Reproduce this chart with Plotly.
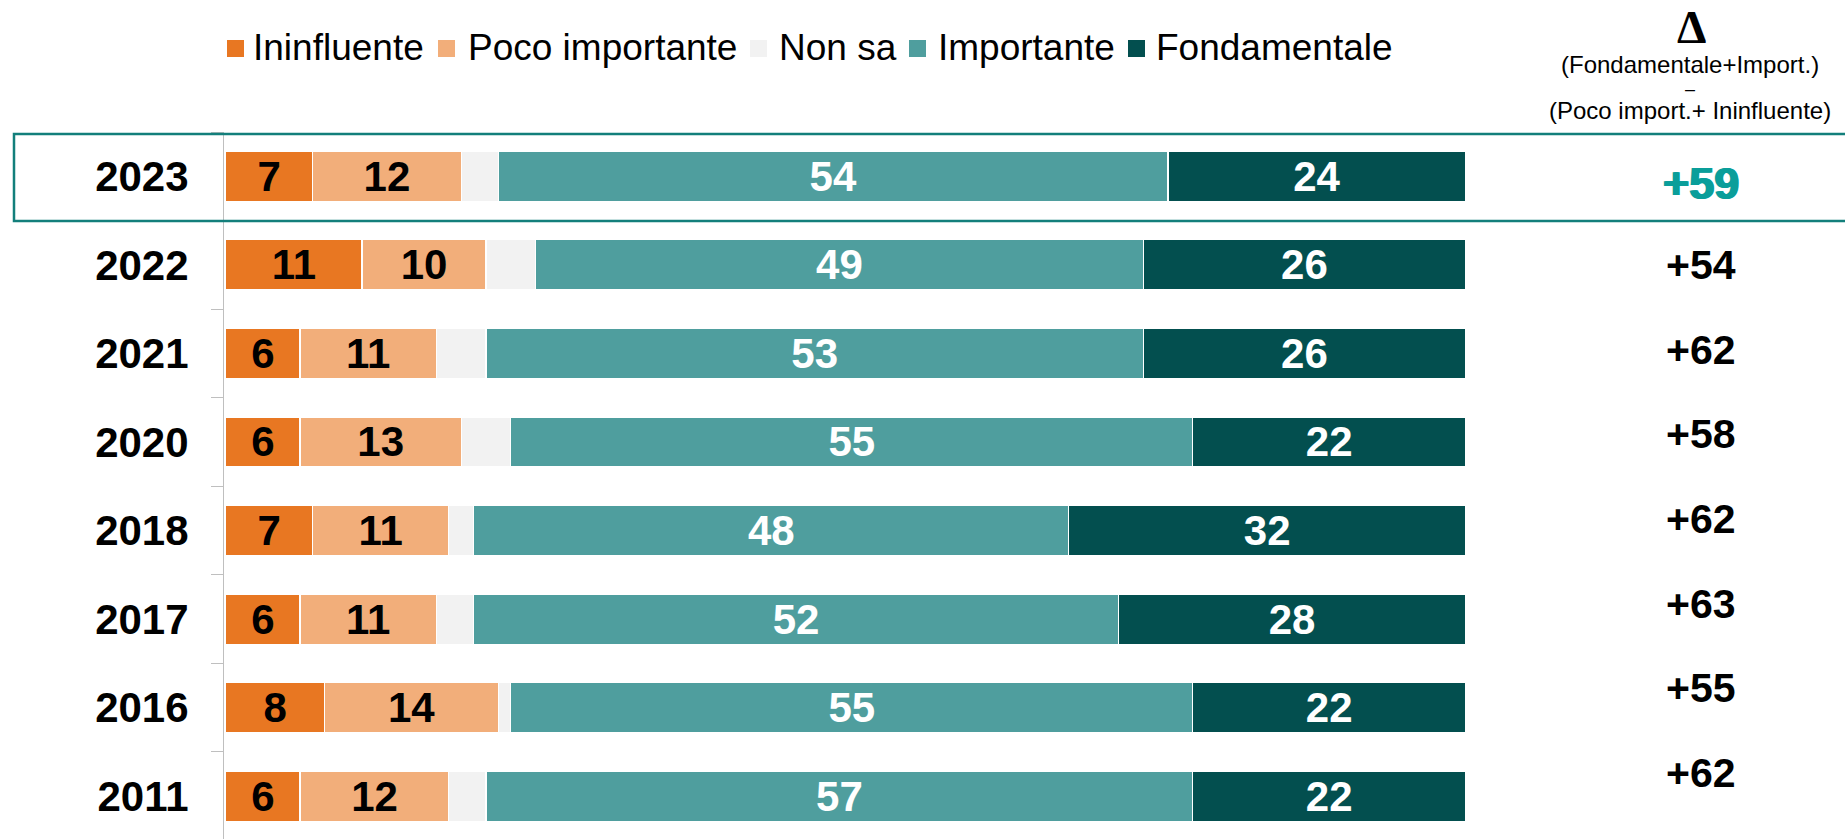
import plotly.graph_objects as go

# Survey waves, top to bottom
years = ["2023", "2022", "2021", "2020", "2018", "2017", "2016", "2011"]

# Share of answers (%) per wave
ininfluente = [7, 11, 6, 6, 7, 6, 8, 6]
poco_importante = [12, 10, 11, 13, 11, 11, 14, 12]
non_sa = [3, 4, 4, 4, 2, 3, 1, 3]
importante = [54, 49, 53, 55, 48, 52, 55, 57]
fondamentale = [24, 26, 26, 22, 32, 28, 22, 22]

# Net balance column: (Fondamentale+Import.) - (Poco import.+ Ininfluente)
delta_labels = ["+59", "+54", "+62", "+58", "+62", "+63", "+55", "+62"]

series_names = ["Ininfluente", "Poco importante", "Non sa", "Importante", "Fondamentale"]
series_values = [ininfluente, poco_importante, non_sa, importante, fondamentale]
series_colors = ["#E87722", "#F2AE7A", "#F2F2F2", "#4F9E9E", "#034F4F"]
label_colors = ["#000000", "#000000", "#000000", "#FFFFFF", "#FFFFFF"]
show_labels = [True, True, False, True, True]

W, H = 1845, 839
ML, MT = 224, 132
PW, PH = W - ML, H - MT

FONT = "Liberation Sans, Arial, sans-serif"


def px_x(px):
    return (px - ML) / PW


def px_y(py):
    return (H - py) / PH


fig = go.Figure()

for name, vals, color, tcol, show in zip(series_names, series_values,
                                         series_colors, label_colors, show_labels):
    fig.add_trace(go.Bar(
        name=name,
        y=years,
        x=vals,
        orientation="h",
        marker=dict(color=color, line=dict(color="#FFFFFF", width=1.2)),
        text=[str(v) for v in vals] if show else None,
        textposition="inside" if show else "none",
        insidetextanchor="middle",
        textangle=0,
        constraintext="none",
        textfont=dict(family=FONT, size=42, color=tcol, weight="bold"),
        showlegend=False,
        hoverinfo="skip",
    ))

fig.update_layout(
    width=W, height=H,
    margin=dict(l=ML, r=0, t=MT, b=0, pad=0),
    paper_bgcolor="white",
    plot_bgcolor="white",
    barmode="stack",
    bargap=0.435,
    showlegend=False,
    xaxis=dict(range=[-0.137, 130.6], visible=False, fixedrange=True),
    yaxis=dict(
        type="category",
        categoryorder="array",
        categoryarray=years,
        range=[7.483, -0.5],
        showgrid=False,
        zeroline=False,
        showline=True,
        linecolor="#BFBFBF",
        linewidth=1,
        ticks="outside",
        tickson="boundaries",
        ticklen=12,
        tickcolor="#BFBFBF",
        tickwidth=1,
        ticklabelstandoff=26,
        tickfont=dict(family=FONT, size=42, color="#000000", weight="bold"),
    ),
)

# Highlight frame around the latest wave
fig.add_shape(
    type="rect", xref="paper", yref="paper",
    x0=px_x(14), x1=px_x(1850), y0=px_y(221), y1=px_y(134),
    line=dict(color="#137F7B", width=2.5), fillcolor="rgba(0,0,0,0)",
    layer="above",
)

# Legend row: coloured squares followed by labels
legend_marker_left = [227, 438, 750, 909, 1128]
legend_text_left = [251, 466, 777, 936, 1154]
for name, color, mx, tx in zip(series_names, series_colors,
                               legend_marker_left, legend_text_left):
    fig.add_shape(
        type="rect", xref="paper", yref="paper",
        x0=px_x(mx), x1=px_x(mx + 17), y0=px_y(57), y1=px_y(40),
        line=dict(width=0), fillcolor=color,
    )
    fig.add_annotation(
        x=px_x(tx), y=px_y(48), xref="paper", yref="paper",
        text=name, showarrow=False, xanchor="left", yanchor="middle",
        font=dict(family=FONT, size=37, color="#000000"),
    )

# Header of the net balance column
fig.add_annotation(
    x=px_x(1691), y=px_y(27), xref="paper", yref="paper",
    text="Δ", showarrow=False, xanchor="center", yanchor="middle",
    font=dict(family="Liberation Serif, Times New Roman, serif", size=47,
              color="#000000", weight="bold"),
)
header_lines = ["(Fondamentale+Import.)", "–", "(Poco import.+ Ininfluente)"]
header_y = [64, 89, 111]
header_size = [24, 18, 24]
for line, hy, hs in zip(header_lines, header_y, header_size):
    fig.add_annotation(
        x=px_x(1690), y=px_y(hy), xref="paper", yref="paper",
        text=line, showarrow=False, xanchor="center", yanchor="middle",
        borderpad=0,
        font=dict(family=FONT, size=hs, color="#000000"),
    )

# Net balance values
for i, lab in enumerate(delta_labels):
    latest = i == 0
    fig.add_annotation(
        x=119, y=0.05 + 0.955 * i + (0.03 if latest else 0), xref="x", yref="y",
        text=lab, showarrow=False, xanchor="center", yanchor="middle",
        font=dict(
            family=FONT,
            size=45 if latest else 41,
            color="#0A9E9A" if latest else "#000000",
            weight="bold",
            shadow="1px 0 0 #0A9E9A, -1px 0 0 #0A9E9A" if latest else "none",
        ),
    )

fig.write_html("out.html")
